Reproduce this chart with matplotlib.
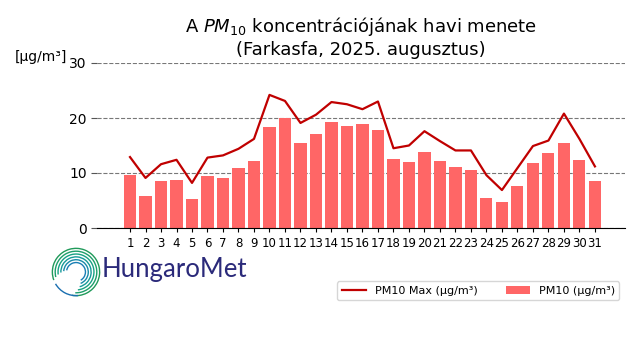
import numpy as np
import matplotlib
matplotlib.use("Agg")
import matplotlib.pyplot as plt
from matplotlib.patches import Arc

# napok es ertekek (ug/m3)
days = list(range(1, 32))
pm10_avg = [9.6, 5.8, 8.5, 8.7, 5.3, 9.5, 9.1, 10.9, 12.2, 18.4, 20.0, 15.5, 17.1, 19.3, 18.6, 19.0,
            17.8, 12.5, 12.0, 13.8, 12.2, 11.1, 10.5, 5.5, 4.7, 7.6, 11.8, 13.6, 15.5, 12.4, 8.5]
pm10_max = [12.9, 9.1, 11.6, 12.4, 8.2, 12.8, 13.2, 14.4, 16.2, 24.2, 23.1, 19.1, 20.6, 22.9, 22.5, 21.6,
            23.0, 14.5, 15.0, 17.6, 15.8, 14.1, 14.1, 9.6, 6.9, 10.9, 14.9, 15.9, 20.8, 16.2, 11.2]
yticks = [0, 10, 20, 30]

fig = plt.figure(figsize=(6.4, 3.6), dpi=100)
ax = fig.add_axes([97 / 640, 1 - 228 / 360, 528 / 640, 165 / 360])

ax.bar(days, pm10_avg, width=0.78, color="#ff6666", label="PM10 (μg/m³)", zorder=2)
ax.plot(days, pm10_max, color="#c00000", lw=1.6, label="PM10 Max (μg/m³)", zorder=3)

ax.set_xlim(-1.13, 32.94)
ax.set_ylim(0, 30)
ax.set_yticks(yticks)
ax.set_xticks(days)
ax.tick_params(axis="x", labelsize=8.5, length=3)
ax.tick_params(axis="y", labelsize=10, length=4, color="#555555")
ax.yaxis.grid(True, linestyle="--", color="#777777", lw=0.8, zorder=0)
for s in ["top", "right", "left"]:
    ax.spines[s].set_visible(False)

ax.set_title("A $PM_{10}$ koncentrációjának havi menete\n(Farkasfa, 2025. augusztus)",
             fontsize=13, pad=6)
fig.text(15 / 640, 1 - 57 / 360, "[μg/m³]", fontsize=10, va="center", ha="left")

leg = ax.legend(loc="upper right", bbox_to_anchor=(1.0, -0.29), ncol=2, fontsize=8,
                frameon=True, handlelength=2.2, columnspacing=2.5)

# HungaroMet logo
lax = fig.add_axes([50 / 640, 1 - 298 / 360, 52 / 640, 52 / 360])
lax.set_xlim(-1.1, 1.1)
lax.set_ylim(-1.1, 1.1)
lax.set_aspect("equal")
lax.axis("off")
cols = ["#1a7fb5", "#178aa8", "#169a98", "#17a283", "#1c9f6a", "#209a5a"]
for i, r in enumerate(np.linspace(0.4, 1.0, 6)):
    lax.add_patch(Arc((0, 0), 2 * r, 2 * r, theta1=-60 - i * 8, theta2=170 + i * 6,
                      color=cols[i], lw=1.0))
lax.add_patch(Arc((0, 0), 2.0, 2.0, theta1=210, theta2=275, color="#1a6fb0", lw=1.0))
fig.text(102 / 640, 1 - 270 / 360, "HungaroMet", fontsize=18.5, color="#2b2a7a",
         va="center", ha="left", family="Lato")

fig.savefig("out.png", dpi=100)
